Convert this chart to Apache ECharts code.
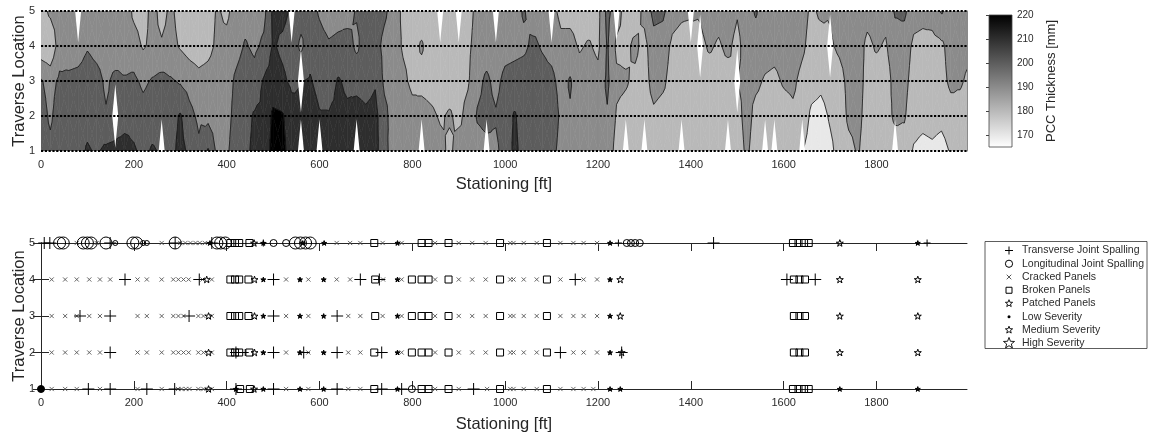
<!DOCTYPE html>
<html>
<head>
<meta charset="utf-8">
<script src="https://cdn.jsdelivr.net/npm/echarts@6.0.0/dist/echarts.min.js"></script>
<style>
  html, body { margin: 0; padding: 0; background: #fff; }
  #chart { width: 1152px; height: 433px; }
</style>
</head>
<body>
<div id="chart"></div>
<script>
// ---------- survey layout ----------
const stations = [0,20,40,60,80,100,120,140,160,180,200,220,240,260,280,300,320,340,360,380,
  400,420,440,460,480,500,520,540,560,580,600,620,640,660,680,700,720,740,760,780,
  800,820,840,860,880,900,920,940,960,980,1000,1020,1040,1060,1080,1100,1120,1140,1160,1180,
  1200,1220,1240,1260,1280,1300,1320,1340,1360,1380,1400,1420,1440,1460,1480,1500,1520,1540,1560,1580,
  1600,1620,1640,1660,1680,1700,1720,1740,1760,1780,1800,1820,1840,1860,1880,1900,1920,1940,1960,1980,1995];
const traverses = [1, 2, 3, 4, 5];
const xTickValues = [0, 200, 400, 600, 800, 1000, 1200, 1400, 1600, 1800];
const contourLevels = [170, 180, 190, 200, 210, 220];
const colorbarTicks = [170, 180, 190, 200, 210, 220];
const colorRange = [165, 220];
const stationMax = 1995;

// PCC thickness [mm] per traverse (null = no reading)
const thicknessT1 = [206,203,207,206,207,211,209,212,213,214, 211,208,211,null,207,213,208,202,211,197,
  198,206,208,212,213,224,223,215,null,216, null,213,214,213,null,215,214,202,197,194,
  195,null,196,193,188,194,192,196,null,198, 204,212,207,206,205,204,196,194,193,195,
  196,197,186,null,184,null,185,187,184,null, 183,184,183,185,null,184,192,185,null,null,
  184,185,null,176,175,178,183,187,191,185, 184,183,null,186,179,177,178,176,181,183, 184];
const thicknessT2 = [205,198,206,204,206,207,205,201,null,206, 207,204,206,205,206,211,203,198,197,195,
  196,204,207,211,212,222,221,214,212,216, 211,211,213,212,214,212,213,203,195,196,
  193,194,192,189,191,188,193,201,203,201, 205,211,206,205,206,207,198,199,196,194,
  195,199,189,187,186,185,188,186,185,186, 185,186,185,188,185,186,194,187,186,185,
  186,188,186,178,177,181,184,192,193,186, 185,186,192,191,184,183,184,183,186,187, 186];
const thicknessT3 = [201,196,202,203,204,206,204,198,203,201, 202,198,201,203,201,199,196,193,194,196,
  195,202,206,204,211,214,212,208,null,211, 206,204,211,208,207,206,209,198,196,192,
  188,187,186,185,186,187,189,197,202,197, 203,204,205,206,204,203,196,201,194,195,
  193,202,192,191,188,186,194,192,186,185, 186,187,186,187,186,null,193,192,189,188,
  191,192,187,184,182,184,186,193,194,187, 186,185,194,193,186,185,186,187,192,191, 189];
const thicknessT4 = [183,182,195,193,194,199,196,194,193,195, 194,189,192,191,193,189,186,185,187,192,
  193,196,201,198,202,211,208,205,198,206, 203,201,202,204,198,205,204,197,194,189,
  187,191,186,185,184,185,188,194,195,193, 196,197,198,202,199,196,192,193,189,191,
  188,201,188,188,192,187,196,195,188,186, 185,null,191,189,192,187,195,196,194,193,
  194,196,192,186,185,null,192,195,194,188, 191,189,196,195,188,187,186,188,194,193, 192];
const thicknessT5 = [186,192,194,195,null,196,195,194,195,196, 188,186,193,187,192,186,184,185,186,191,
  188,194,196,195,197,212,213,null,204,203, 199,196,197,196,201,203,206,202,195,188,
  186,185,184,null,183,null,186,193,192,null, 194,196,201,195,197,null,188,187,186,185,
  187,203,null,186,185,193,203,202,194,192, null,191,194,193,195,191,196,201,195,196,
  197,195,194,188,192,191,195,197,196,193, 194,193,201,202,194,193,195,201,196,195, 194];

// ---------- distress survey: [station, traverse, severity] ----------
const transverseSpalling = [
  [7,5,'H'],[19,5,'H'],[149,5,'H'],[289,5,'H'],[368,5,'H'],[479,5,'M'],[1244,5,'M'],[1449,5,'H'],[1909,5,'M'],
  [181,4,'H'],[341,4,'H'],[501,4,'H'],[688,4,'H'],[729,4,'H'],[1151,4,'H'],[1607,4,'H'],[1668,4,'H'],
  [84,3,'H'],[149,3,'H'],[319,3,'H'],[501,3,'H'],[638,3,'H'],
  [149,2,'H'],[420,2,'H'],[440,2,'M'],[501,2,'H'],[566,2,'H'],[638,2,'H'],[734,2,'H'],[1119,2,'H'],[1251,2,'H'],
  [102,1,'H'],[149,1,'H'],[228,1,'H'],[288,1,'H'],[420,1,'H'],[501,1,'H'],[638,1,'H'],[734,1,'H'],[777,1,'H'],[932,1,'H']
];
// a fourth entry marks a spot where several spalls stack into a solid mark
const longitudinalSpalling = [
  [40,5,'H'],[48,5,'H'],[91,5,'H'],[100,5,'H'],[108,5,'H'],[140,5,'H'],[160,5,'L'],[198,5,'H'],[206,5,'H'],
  [220,5,'L'],[228,5,'L'],[289,5,'H'],[379,5,'H'],[387,5,'H'],[397,5,'H'],[501,5,'M'],[528,5,'M'],
  [548,5,'H'],[559,5,'H'],[570,5,'H'],[580,5,'H'],[1262,5,'M'],[1271,5,'M'],[1280,5,'M'],[1290,5,'M'],
  [0,1,'M',true],[799,1,'M']
];
// [traverse, severity, stations]
const crackedPanels = [
  [5,'L',[77,120,260,300,311,322,333,342,353,637,666,688,736,777,849,900,929,958,1011,1018,1040,1068,1119,1147,1169,1198]],
  [4,'L',[23,52,77,104,127,149,208,228,260,285,296,307,318,348,368,528,576,637,666,737,777,849,900,929,958,1011,1018,1040,1068,1119,1169,1198]],
  [3,'L',[23,52,77,104,127,208,228,260,285,296,307,339,350,368,528,576,662,688,736,777,849,900,929,958,1011,1018,1040,1068,1119,1147,1169,1198]],
  [2,'L',[23,52,77,104,127,208,228,260,285,296,307,318,339,350,368,528,576,662,688,777,849,900,929,958,1011,1018,1040,1068,1147,1169,1198]],
  [1,'L',[23,52,77,127,208,260,295,303,312,320,339,350,368,528,576,662,688,849,900,961,1011,1018,1040,1068,1119,1147,1169,1190]]
];
const brokenPanels = [
  [5,'M',[408,418,427,449,718,820,835,878,989,1090,1620,1632,1644,1654]],
  [4,'M',[408,418,427,447,720,799,820,835,878,989,1090,1622,1634,1646]],
  [3,'M',[408,418,427,447,720,799,820,835,878,989,1090,1622,1634,1646]],
  [2,'M',[408,418,427,449,718,799,820,835,878,989,1090,1622,1634,1646]],
  [1,'M',[429,450,718,820,835,878,989,1090,1620,1632,1644,1654]]
];
const patchedPanels = [
  [364,5,'L'],[459,5,'M'],[479,5,'L'],[564,5,'L'],[610,5,'L'],[768,5,'L'],[1226,5,'L'],[1721,5,'M'],[1889,5,'L'],
  [357,4,'M'],[460,4,'M'],[479,4,'L'],[558,4,'L'],[609,4,'L'],[768,4,'L'],[1226,4,'L'],[1248,4,'M'],[1721,4,'M'],[1889,4,'M'],
  [361,3,'M'],[460,3,'M'],[479,3,'L'],[558,3,'L'],[609,3,'L'],[768,3,'L'],[1226,3,'L'],[1248,3,'M'],[1721,3,'M'],[1889,3,'M'],
  [361,2,'M'],[460,2,'M'],[479,2,'L'],[558,2,'L'],[609,2,'L'],[768,2,'L'],[1226,2,'L'],[1251,2,'M'],[1721,2,'M'],[1889,2,'M'],
  [361,1,'M'],[420,1,'L'],[459,1,'M'],[479,1,'L'],[558,1,'L'],[609,1,'L'],[768,1,'L'],[1226,1,'L'],[1248,1,'L'],[1721,1,'L'],[1889,1,'L']
];
const legendLabels = ['Transverse Joint Spalling','Longitudinal Joint Spalling','Cracked Panels','Broken Panels',
  'Patched Panels','Low Severity','Medium Severity','High Severity'];

// ---------- styling ----------
const FONT = "'Liberation Sans', Arial, Helvetica, sans-serif";
const TEXT = '#2b2b2b';
const SEVERITY_SIZE = { L: 5, M: 7, H: 12 };
const HOLE_HALF_WIDTH = 3;   // px
const HOLE_REACH = 0.9;      // traverse units

const SYM_PLUS = 'path://M0,50L100,50M50,0L50,100';
const SYM_CROSS = 'path://M0,0L100,100M100,0L0,100';
const SYM_STAR = 'path://M50,0L61.8,34.5L97.6,34.5L68.8,56L79.4,90.5L50,69L20.6,90.5L31.2,56L2.4,34.5L38.2,34.5Z';

function grayAt(v) {
  const t = Math.min(1, Math.max(0, (v - colorRange[0]) / (colorRange[1] - colorRange[0])));
  const g = Math.round(255 * (1 - t));
  return 'rgb(' + g + ',' + g + ',' + g + ')';
}
const bandFill = [grayAt(colorRange[0])].concat(contourLevels.map(grayAt));
function bandOf(v) { let k = 0; for (const L of contourLevels) if (v >= L) k++; return k; }
const plainNumber = v => String(v);

// keep the part of a polygon where value >= L (above) or <= L (below)
function clipByValue(poly, L, above) {
  const out = [];
  for (let i = 0; i < poly.length; i++) {
    const a = poly[i], b = poly[(i + 1) % poly.length];
    const ina = above ? a.v >= L : a.v <= L;
    const inb = above ? b.v >= L : b.v <= L;
    if (ina) out.push(a);
    if (ina !== inb) {
      const t = (L - a.v) / (b.v - a.v);
      out.push({ x: a.x + t * (b.x - a.x), y: a.y + t * (b.y - a.y), v: L });
    }
  }
  return out;
}

function renderContours(params, api) {
  const rows = [thicknessT1, thicknessT2, thicknessT3, thicknessT4, thicknessT5];
  // missing readings borrow their neighbours' value so bands stay continuous
  const grid = rows.map(r => r.map((v, i) => {
    if (v != null) return v;
    const nb = [r[i - 1], r[i + 1]].filter(x => x != null);
    return nb.length ? nb.reduce((s, x) => s + x, 0) / nb.length : 195;
  }));
  const px = stations.map(s => api.coord([s, traverses[0]])[0]);
  const py = traverses.map(t => api.coord([stations[0], t])[1]);
  const fills = [], lines = [], holes = [];

  for (let j = 0; j < traverses.length - 1; j++) {
    for (let i = 0; i < stations.length - 1; i++) {
      const a = { x: px[i], y: py[j], v: grid[j][i] };
      const b = { x: px[i + 1], y: py[j], v: grid[j][i + 1] };
      const c = { x: px[i + 1], y: py[j + 1], v: grid[j + 1][i + 1] };
      const d = { x: px[i], y: py[j + 1], v: grid[j + 1][i] };
      const m = { x: (a.x + b.x) / 2, y: (a.y + d.y) / 2, v: (a.v + b.v + c.v + d.v) / 4 };
      const tris = [[m, a, b], [m, b, c], [m, c, d], [m, d, a]];
      for (const tri of tris) {
        const vs = tri.map(p => p.v);
        const lo = Math.min.apply(null, vs), hi = Math.max.apply(null, vs);
        const k0 = bandOf(lo), k1 = bandOf(hi);
        for (let k = k0; k <= k1; k++) {
          let poly = tri;
          if (k > k0) poly = clipByValue(poly, contourLevels[k - 1], true);
          if (k < k1) poly = clipByValue(poly, contourLevels[k], false);
          if (poly.length < 3) continue;
          fills.push({
            type: 'polygon', silent: true,
            shape: { points: poly.map(p => [p.x, p.y]) },
            style: { fill: bandFill[k], stroke: bandFill[k], lineWidth: 0.6 }
          });
        }
        for (const L of contourLevels) {
          if (!(lo < L && hi >= L)) continue;
          const pts = [];
          for (let e = 0; e < 3; e++) {
            const p = tri[e], q = tri[(e + 1) % 3];
            if ((p.v >= L) !== (q.v >= L)) {
              const t = (L - p.v) / (q.v - p.v);
              pts.push([p.x + t * (q.x - p.x), p.y + t * (q.y - p.y)]);
            }
          }
          if (pts.length === 2) {
            lines.push({
              type: 'line', silent: true,
              shape: { x1: pts[0][0], y1: pts[0][1], x2: pts[1][0], y2: pts[1][1] },
              style: { stroke: '#151515', lineWidth: 0.8 }
            });
          }
        }
      }
    }
  }
  // gaps in the survey are left unfilled
  rows.forEach((r, j) => r.forEach((v, i) => {
    if (v != null) return;
    const cx = px[i], cy = py[j];
    const up = api.coord([stations[i], traverses[j] + HOLE_REACH])[1];
    const dn = api.coord([stations[i], traverses[j] - HOLE_REACH])[1];
    holes.push({
      type: 'polygon', silent: true,
      shape: { points: [[cx - HOLE_HALF_WIDTH, cy], [cx, up], [cx + HOLE_HALF_WIDTH, cy], [cx, dn]] },
      style: { fill: '#ffffff' }
    });
  }));
  return { type: 'group', children: fills.concat(lines, holes) };
}

function renderTraverseLine(params, api) {
  const t = api.value(0);
  const p0 = api.coord([stations[0], t]);
  const p1 = api.coord([stations[stations.length - 1], t]);
  return {
    type: 'line', silent: true,
    shape: { x1: p0[0], y1: p0[1], x2: p1[0], y2: p1[1] },
    style: { stroke: '#000', lineWidth: 2.2, lineDash: [2.2, 1.6] }
  };
}

function renderColorbar(params, api) {
  const top = api.coord([0, colorRange[1]]);
  const bot = api.coord([1, colorRange[0]]);
  return {
    type: 'rect', silent: true,
    shape: { x: top[0], y: top[1], width: bot[0] - top[0], height: bot[1] - top[1] },
    style: {
      fill: new echarts.graphic.LinearGradient(0, 0, 0, 1, [
        { offset: 0, color: grayAt(colorRange[1]) },
        { offset: 1, color: grayAt(colorRange[0]) }
      ]),
      stroke: '#444', lineWidth: 0.8
    }
  };
}

function markerData(list, filledLow, sizeOverride) {
  return list.map(([s, t, sev, solid]) => ({
    value: [s, t],
    symbolSize: sizeOverride || SEVERITY_SIZE[sev],
    itemStyle: (solid || (filledLow && sev === 'L')) ? { color: '#000' } : undefined
  }));
}
function groupedData(groups) {
  const out = [];
  groups.forEach(([t, sev, list]) => list.forEach(s => out.push([s, t, sev])));
  return out;
}
function scatterSeries(name, symbol, data, keepAspect, stroke, width) {
  return {
    name, type: 'scatter', xAxisIndex: 1, yAxisIndex: 2,
    symbol, symbolKeepAspect: !!keepAspect, data,
    itemStyle: { color: 'rgba(0,0,0,0)', borderColor: stroke || '#000', borderWidth: width || 1, opacity: 1 },
    emphasis: { disabled: true }, silent: true, z: 3
  };
}

// ---------- legend (drawn as plain graphics) ----------
function legendGraphics() {
  const x0 = 985, y0 = 241.5, w = 162, h = 107, mx = 1009, tx = 1022, step = 13.25, first = 250.5;
  const kids = [{ type: 'rect', shape: { x: x0, y: y0, width: w, height: h }, style: { fill: '#fff', stroke: '#333', lineWidth: 0.8 } }];
  const st = { stroke: '#000', lineWidth: 1, fill: 'none' };
  function star(cx, cy, r, fill) {
    const pts = [];
    for (let k = 0; k < 10; k++) {
      const ang = -Math.PI / 2 + k * Math.PI / 5;
      const rr = k % 2 === 0 ? r : r * 0.42;
      pts.push([cx + rr * Math.cos(ang), cy + rr * Math.sin(ang)]);
    }
    return { type: 'polygon', shape: { points: pts }, style: { stroke: '#000', lineWidth: 0.9, fill: fill || 'none' } };
  }
  legendLabels.forEach((label, k) => {
    const cy = first + k * step;
    if (k === 0) {
      kids.push({ type: 'line', shape: { x1: mx - 4, y1: cy, x2: mx + 4, y2: cy }, style: st });
      kids.push({ type: 'line', shape: { x1: mx, y1: cy - 4, x2: mx, y2: cy + 4 }, style: st });
    } else if (k === 1) {
      kids.push({ type: 'circle', shape: { cx: mx, cy, r: 3.6 }, style: st });
    } else if (k === 2) {
      kids.push({ type: 'line', shape: { x1: mx - 2.3, y1: cy - 2.3, x2: mx + 2.3, y2: cy + 2.3 }, style: { stroke: '#444', lineWidth: 0.9 } });
      kids.push({ type: 'line', shape: { x1: mx + 2.3, y1: cy - 2.3, x2: mx - 2.3, y2: cy + 2.3 }, style: { stroke: '#444', lineWidth: 0.9 } });
    } else if (k === 3) {
      kids.push({ type: 'rect', shape: { x: mx - 3, y: cy - 3, width: 6, height: 6 }, style: st });
    } else if (k === 4 || k === 6) {
      kids.push(star(mx, cy, 3.8));
    } else if (k === 5) {
      kids.push({ type: 'circle', shape: { cx: mx, cy, r: 1.5 }, style: { fill: '#000' } });
    } else {
      kids.push(star(mx, cy, 5.8));
    }
    kids.push({ type: 'text', x: tx, y: cy, style: { text: label, fill: TEXT, font: '10.5px ' + FONT, verticalAlign: 'middle', align: 'left' } });
  });
  return [{ type: 'group', silent: true, children: kids }];
}

const axisLabelStyle = { fontSize: 11, color: TEXT, fontFamily: FONT };
const titleStyle = { fontSize: 16.5, color: '#262626', fontFamily: FONT };
const frameLine = { show: true, lineStyle: { color: '#262626', width: 1 } };

const option = {
  animation: false,
  backgroundColor: '#fff',
  grid: [
    { left: 41, top: 11, width: 926, height: 140, outerBoundsMode: 'none' },
    { left: 41, top: 243, width: 926, height: 146, outerBoundsMode: 'none' },
    { left: 989, top: 15, width: 23, height: 132, outerBoundsMode: 'none' }
  ],
  xAxis: [
    { gridIndex: 0, type: 'value', min: 0, max: stationMax,
      axisLine: { show: false }, axisTick: { show: false }, splitLine: { show: false },
      axisLabel: Object.assign({ customValues: xTickValues, margin: 8, formatter: plainNumber }, axisLabelStyle),
      name: 'Stationing [ft]', nameLocation: 'middle', nameGap: 25, nameMoveOverlap: false, nameTextStyle: titleStyle },
    { gridIndex: 1, type: 'value', min: 0, max: stationMax, position: 'bottom',
      axisLine: frameLine, splitLine: { show: false },
      axisTick: { show: true, inside: true, length: 8, customValues: xTickValues, lineStyle: { color: '#262626' } },
      axisLabel: Object.assign({ customValues: xTickValues, margin: 8, formatter: plainNumber }, axisLabelStyle),
      name: 'Stationing [ft]', nameLocation: 'middle', nameGap: 27, nameMoveOverlap: false, nameTextStyle: titleStyle },
    { gridIndex: 1, type: 'value', min: 0, max: stationMax, position: 'top',
      axisLine: frameLine, splitLine: { show: false },
      axisTick: { show: true, inside: true, length: 8, customValues: xTickValues, lineStyle: { color: '#262626' } },
      axisLabel: { show: false } },
    { gridIndex: 2, type: 'value', min: 0, max: 1, show: false }
  ],
  yAxis: [
    { gridIndex: 0, type: 'value', min: 1, max: 5, interval: 1,
      axisLine: { show: false }, axisTick: { show: false }, splitLine: { show: false },
      axisLabel: Object.assign({ margin: 6 }, axisLabelStyle),
      name: 'Traverse Location', nameLocation: 'middle', nameRotate: 90, nameGap: 13, nameMoveOverlap: false,
      nameTextStyle: titleStyle },
    { gridIndex: 0, type: 'value', min: 1, max: 5, interval: 1, position: 'right',
      axisLine: { show: true, lineStyle: { color: '#8a8a8a', width: 1 } }, axisTick: { show: false },
      axisLabel: { show: false }, splitLine: { show: false } },
    { gridIndex: 1, type: 'value', min: 1, max: 5, interval: 1,
      axisLine: frameLine, splitLine: { show: false },
      axisTick: { show: true, inside: true, length: 8, lineStyle: { color: '#262626' } },
      axisLabel: Object.assign({ margin: 6 }, axisLabelStyle),
      name: 'Traverse Location', nameLocation: 'middle', nameRotate: 90, nameGap: 13, nameMoveOverlap: false,
      nameTextStyle: titleStyle },
    { gridIndex: 1, type: 'value', min: 1, max: 5, interval: 1, position: 'right',
      axisLine: frameLine, splitLine: { show: false },
      axisTick: { show: true, inside: true, length: 8, lineStyle: { color: '#262626' } },
      axisLabel: { show: false } },
    { gridIndex: 2, type: 'value', min: colorRange[0], max: colorRange[1], position: 'right',
      axisLine: { show: false }, splitLine: { show: false },
      axisTick: { show: true, inside: true, length: 3, customValues: colorbarTicks, lineStyle: { color: '#444' } },
      axisLabel: Object.assign({ customValues: colorbarTicks, margin: 5 }, axisLabelStyle, { fontSize: 10 }),
      name: 'PCC Thickness [mm]', nameLocation: 'middle', nameRotate: 90, nameGap: 33, nameMoveOverlap: false,
      nameTextStyle: { fontSize: 13, color: '#262626', fontFamily: FONT } }
  ],
  graphic: legendGraphics(),
  series: [
    { type: 'custom', name: 'thickness', xAxisIndex: 0, yAxisIndex: 0, clip: true, silent: true,
      data: [[stations[0], traverses[0]]], renderItem: renderContours, z: 1 },
    { type: 'custom', name: 'traverses', xAxisIndex: 0, yAxisIndex: 0, clip: false, silent: true,
      data: traverses.map(t => [t]), renderItem: renderTraverseLine, z: 4 },
    scatterSeries('Cracked Panels', SYM_CROSS, markerData(groupedData(crackedPanels), false, 4.2), false, '#555', 0.9),
    scatterSeries('Broken Panels', 'rect', markerData(groupedData(brokenPanels))),
    scatterSeries('Patched Panels', SYM_STAR, markerData(patchedPanels, true), true),
    scatterSeries('Longitudinal Joint Spalling', 'circle', markerData(longitudinalSpalling)),
    scatterSeries('Transverse Joint Spalling', SYM_PLUS, markerData(transverseSpalling)),
    { type: 'custom', name: 'colorbar', xAxisIndex: 3, yAxisIndex: 4, silent: true,
      data: [[0, colorRange[0]]], renderItem: renderColorbar }
  ]
};

const chart = echarts.init(document.getElementById('chart'), null, { renderer: 'canvas' });
chart.setOption(option);
</script>
</body>
</html>
